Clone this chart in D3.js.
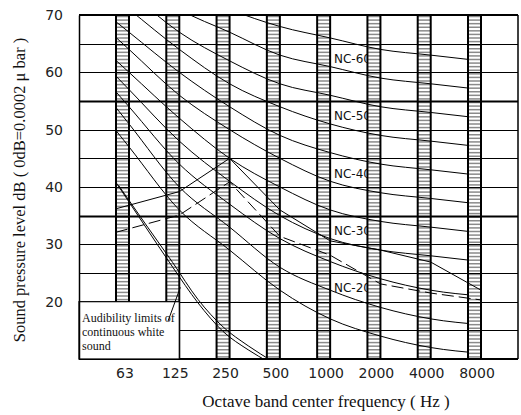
<!DOCTYPE html>
<html><head><meta charset="utf-8">
<script src="https://cdn.jsdelivr.net/npm/d3@7"></script>
<style>body{margin:0;background:#fff}</style>
</head><body>
<svg id="c" width="521" height="415"></svg>
<script>
// ---------- data ----------
const freqLabels = ["63","125","250","500","1000","2000","4000","8000"];
const yTicks = [20,30,40,50,60,70];
const gridLevels = [15,20,25,30,35,40,45,50,55,60,65];
const ncLevels = [15,20,25,30,35,40,45,50,55,60,65];
const nc15 = [47,36,29,22,17,14,12,11];
const nc20 = [51,40,33,26,22,19,17,16];
const nc25 = [54,44,37,31,27,24,22,21];
const nc30 = [57,48,41,35,31,29,28,27];
const nc35 = [60,52,45,40,36,34,33,32];
const nc40 = [64,56,50,45,41,39,38,37];
const nc45 = [67,60,54,49,46,44,43,42];
const nc50 = [71,64,58,54,51,49,48,47];
const nc55 = [74,67,62,58,56,54,53,52];
const nc60 = [77,71,67,63,61,59,58,57];
const nc65 = [80,75,71,68,66,64,63,62];
const labelledNC = [20,30,40,50,60];
// extra curves: [octave index (0 = 63 Hz), dB]
const peakSolid = [[-0.13,36.2],[1.13,39.2],[2.13,45.0],[3.13,36.0],[4.13,30.6],[5.13,29.0],[6.13,26.9],[7.13,22.0]];
const peakDashed = [[-0.13,32.1],[1.13,35.1],[2.13,40.9],[3.13,31.4],[4.13,28.1],[5.13,23.1],[6.13,21.5],[7.13,20.3]];
const audibleA = [[-0.13,40.8],[0.5,32.5],[1.0,26.0],[1.5,19.8],[2.0,14.8],[2.5,11.6],[2.9,9.5]];
const audibleB = [[-0.08,40.3],[0.5,33.0],[1.0,26.8],[1.5,20.4],[2.0,15.6],[2.5,12.3],[3.0,9.5]];
const legendLines = ["Audibility limits of","continuous white","sound"];
const pointer = [[0.905,16.6],[1.15,22.5]];

const ncSeries = [nc15,nc20,nc25,nc30,nc35,nc40,nc45,nc50,nc55,nc60,nc65];

// ---------- layout ----------
const L=79, R=518, T=15, B=359, half=6.5, edge=0.13;
const svg = d3.select("#c");
const x = d3.scaleLinear().domain([0,7]).range([122.5,474.5]);
const y = d3.scaleLinear().domain([10,70]).range([B,T]);

const defs = svg.append("defs");
defs.append("clipPath").attr("id","clip")
  .append("rect").attr("x",L).attr("y",T).attr("width",R-L).attr("height",B-T);
defs.append("clipPath").attr("id","ncclip")
  .append("rect").attr("x",x(-edge)).attr("y",T).attr("width",x(7-edge)-x(-edge)).attr("height",B-T);

// NC labels (drawn under bands)
const lab = svg.append("g");
labelledNC.forEach(lv=>{
  const vals = ncSeries[ncLevels.indexOf(lv)];
  lab.append("text").attr("x", x(5)-half+3.5).attr("y", y(vals[5]+3.3))
    .attr("text-anchor","end").attr("dominant-baseline","central")
    .attr("font-family","DejaVu Sans").attr("font-size",12).attr("fill","#111")
    .text("NC-"+lv);
});

// bands
const bandG = svg.append("g");
const hatchY = d3.range(T+1.5, B, 57.333/16);
freqLabels.forEach((f,i)=>{
  const g = bandG.append("g");
  const x0 = x(i)-half, x1 = x(i)+half;
  g.append("rect").attr("x",x0).attr("y",T).attr("width",x1-x0).attr("height",B-T).attr("fill","#fff");
  g.selectAll("line.h").data(hatchY).join("line")
    .attr("x1",x0).attr("x2",x1).attr("y1",d=>d).attr("y2",d=>d)
    .attr("stroke","#8a8a8a").attr("stroke-width",1.5);
  [x0,x1].forEach(xx=>g.append("line").attr("x1",xx).attr("x2",xx).attr("y1",T).attr("y2",B)
    .attr("stroke","#000").attr("stroke-width",2));
});

// grid
const gridG = svg.append("g");
gridLevels.forEach(v=>{
  const x0 = v===15 ? x(1)+half : L;
  gridG.append("line").attr("x1",x0).attr("x2",R).attr("y1",Math.round(y(v))+0.5).attr("y2",Math.round(y(v))+0.5)
    .attr("stroke","#000").attr("stroke-width",(v===55||v===35)?2:1.2);
});
gridG.append("line").attr("x1",L).attr("x2",R).attr("y1",T).attr("y2",T).attr("stroke","#000").attr("stroke-width",2);
gridG.append("line").attr("x1",L).attr("x2",R).attr("y1",B).attr("y2",B).attr("stroke","#000").attr("stroke-width",2);
gridG.append("line").attr("x1",R).attr("x2",R).attr("y1",T).attr("y2",B).attr("stroke","#000").attr("stroke-width",1.5);

// curves
const line = d3.line().x(d=>x(d[0])).y(d=>y(d[1])).curve(d3.curveMonotoneX);
const lin = d3.line().x(d=>x(d[0])).y(d=>y(d[1]));
const ncG = svg.append("g").attr("clip-path","url(#clip)").append("g").attr("clip-path","url(#ncclip)")
  .attr("fill","none").attr("stroke","#000");
ncSeries.forEach(vals=>{
  // points sit at the right edge of each band; first segment is carried back to the 63 Hz band's left edge
  const pts = vals.map((v,i)=>[i+edge,v]);
  const back = [-edge, vals[0] + (vals[0]-vals[1])*(2*edge)];
  ncG.append("path").attr("d", line([back].concat(pts))).attr("stroke-width",1);
});
const cg = svg.append("g").attr("clip-path","url(#clip)").attr("fill","none").attr("stroke","#000");
cg.append("path").attr("d", lin(peakSolid)).attr("stroke-width",1);
cg.append("path").attr("d", lin(peakDashed)).attr("stroke-width",1).attr("stroke-dasharray","12,5");
cg.append("path").attr("d", line(audibleA)).attr("stroke-width",1);
cg.append("path").attr("d", line(audibleB)).attr("stroke-width",1);

// legend box
const lx0 = L, lx1 = x(1)+half, ly0 = y(20);
svg.append("rect").attr("x",lx0).attr("y",ly0).attr("width",lx1-lx0).attr("height",B-ly0)
  .attr("fill","#fff").attr("stroke","#000").attr("stroke-width",1.2);
legendLines.forEach((t,k)=>{
  svg.append("text").attr("x",lx0+3).attr("y",ly0+20+k*14)
    .attr("font-family","Liberation Serif").attr("font-size",12).attr("fill","#111").text(t);
});
svg.append("path").attr("d", lin(pointer)).attr("stroke","#000").attr("fill","none").attr("stroke-width",1);

// axes
const yAxis = svg.append("g").attr("transform",`translate(${L},0)`)
  .call(d3.axisLeft(y).tickValues(yTicks).tickSize(0).tickSizeOuter(0).tickPadding(16));
yAxis.select(".domain").attr("stroke","#000").attr("stroke-width",1.5);
yAxis.selectAll("text").attr("font-family","DejaVu Sans").attr("font-size",14).attr("fill","#222");

const xAxis = svg.append("g").attr("transform",`translate(0,${B})`)
  .call(d3.axisBottom(x).tickValues(d3.range(8)).tickFormat(i=>freqLabels[i]).tickSize(0).tickSizeOuter(0).tickPadding(9));
xAxis.select(".domain").remove();
xAxis.selectAll("text").attr("font-family","DejaVu Sans").attr("font-size",14).attr("fill","#222").attr("dx",2);

// titles
svg.append("text").attr("transform","translate(25,190) rotate(-90)").attr("text-anchor","middle")
  .attr("font-family","Liberation Serif").attr("font-size",16.5).attr("fill","#111")
  .text("Sound pressure level dB ( 0dB=0.0002 μ bar )");
svg.append("text").attr("x",326).attr("y",407).attr("text-anchor","middle")
  .attr("font-family","Liberation Serif").attr("font-size",17).attr("fill","#111")
  .text("Octave band center frequency ( Hz )");
</script>
</body></html>
